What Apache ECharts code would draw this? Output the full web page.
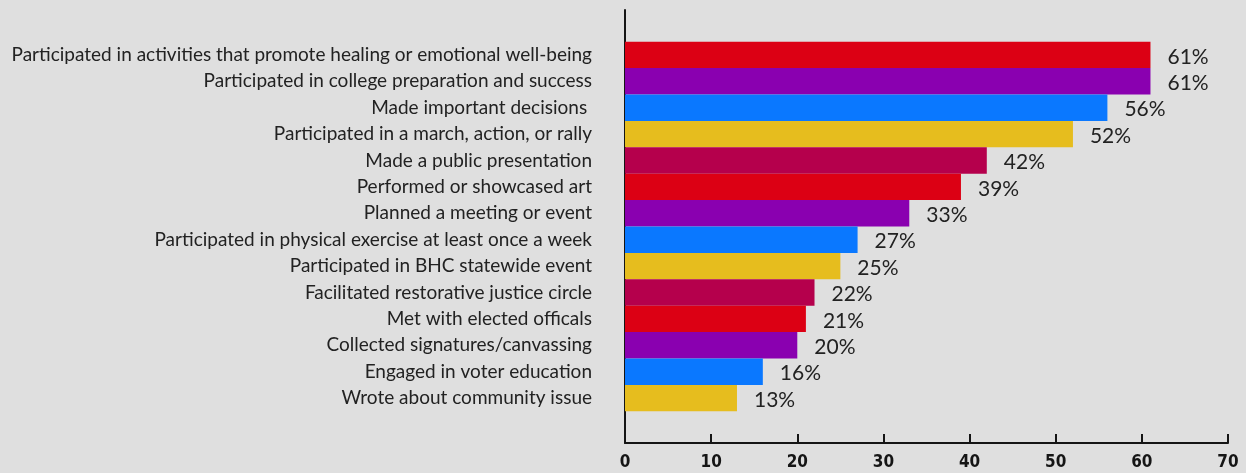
<!DOCTYPE html>
<html>
<head>
<meta charset="utf-8">
<style>
  html, body { margin: 0; padding: 0; background: #dfdfdf; }
  #chart { width: 1246px; height: 473px; }
</style>
<script src="https://cdn.jsdelivr.net/npm/echarts@6/dist/echarts.min.js"></script>
</head>
<body>
<div id="chart"></div>
<script>
// Youth leadership activities, share of participants (%)
const categories = [
  'Participated in activities that promote healing or emotional well-being',
  'Participated in college preparation and success',
  'Made important decisions ',
  'Participated in a march, action, or rally',
  'Made a public presentation',
  'Performed or showcased art',
  'Planned a meeting or event',
  'Participated in physical exercise at least once a week',
  'Participated in BHC statewide event',
  'Facilitated restorative justice circle',
  'Met with elected officals',
  'Collected signatures/canvassing',
  'Engaged in voter education',
  'Wrote about community issue'
];
const values = [61, 61, 56, 52, 42, 39, 33, 27, 25, 22, 21, 20, 16, 13];
const xTicks = [0, 10, 20, 30, 40, 50, 60, 70];
const palette = ['#dc0014', '#8a00b0', '#0a78ff', '#e6bd1e', '#b5004c'];

const chart = echarts.init(document.getElementById('chart'), null, { renderer: 'canvas' });

const labelFont = 'Lato, "Noto Sans", sans-serif';
const tickFont = '"Liberation Sans Narrow", "DejaVu Sans Condensed", sans-serif';

chart.setOption({
  backgroundColor: '#dfdfdf',
  color: palette,
  animation: false,
  grid: [
    // bars
    { left: 625, right: 18, top: 41.7, height: 369.6, containLabel: false },
    // frame with axis lines and ticks
    { left: 625, right: 18, top: 10, bottom: 30, containLabel: false }
  ],
  xAxis: [
    { gridIndex: 0, type: 'value', min: xTicks[0], max: xTicks[xTicks.length - 1], interval: 10, show: false },
    {
      gridIndex: 1, type: 'value', min: xTicks[0], max: xTicks[xTicks.length - 1], interval: 10,
      axisLine: { show: true, lineStyle: { color: '#151515', width: 2 } },
      axisTick: { show: true, inside: true, length: 9, lineStyle: { color: '#151515', width: 2 } },
      splitLine: { show: false },
      axisLabel: {
        color: '#151515', fontFamily: tickFont, fontWeight: 'bold', fontSize: 17, margin: 11,
        formatter: v => String(v)
      }
    }
  ],
  yAxis: [
    {
      gridIndex: 0, type: 'category', data: categories, inverse: true,
      axisLine: { show: false }, axisTick: { show: false }, splitLine: { show: false },
      axisLabel: { color: '#222', fontFamily: labelFont, fontSize: 19, margin: 33 }
    },
    {
      gridIndex: 1, type: 'value', min: 0, max: 1,
      axisLine: { show: true, onZero: false, lineStyle: { color: '#151515', width: 2 } },
      axisTick: { show: false }, axisLabel: { show: false }, splitLine: { show: false }
    }
  ],
  series: [
    {
      type: 'bar',
      xAxisIndex: 0, yAxisIndex: 0,
      data: values,
      colorBy: 'data',
      barCategoryGap: '0%',
      label: {
        show: true, position: 'right', distance: 17, offset: [0, 2],
        color: '#222', fontFamily: labelFont, fontSize: 21,
        formatter: p => p.value + '%'
      }
    }
  ]
});
</script>
</body>
</html>
